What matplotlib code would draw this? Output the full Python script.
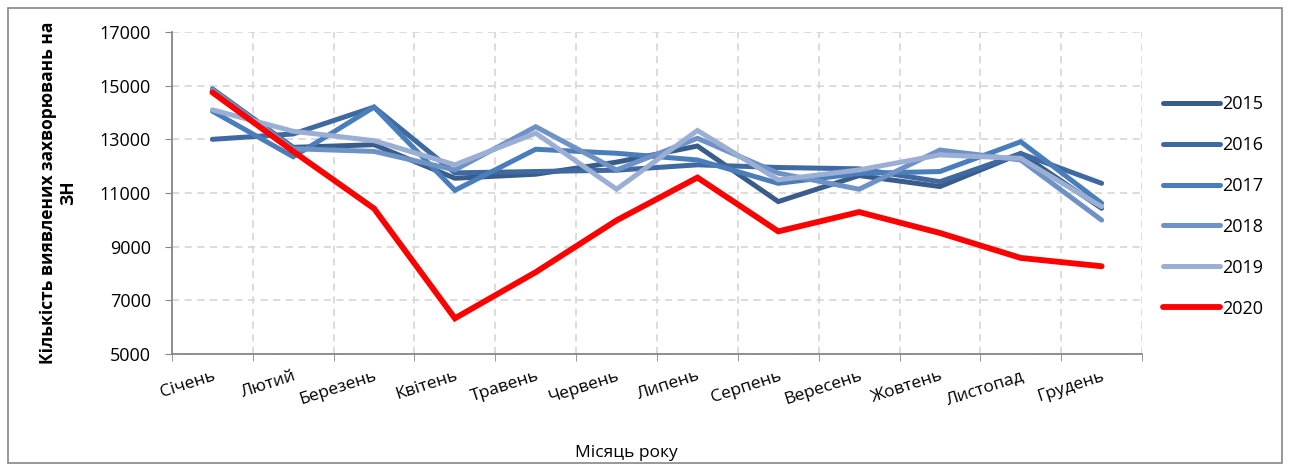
import numpy as np
import matplotlib
matplotlib.use("Agg")
import matplotlib.pyplot as plt
from matplotlib.patches import Rectangle

plt.rcParams['font.family'] = ['Open Sans', 'DejaVu Sans']

months = ['Січень', 'Лютий', 'Березень', 'Квітень', 'Травень', 'Червень',
          'Липень', 'Серпень', 'Вересень', 'Жовтень', 'Листопад', 'Грудень']

y2015 = [14880, 12700, 12800, 11550, 11700, 12150, 12750, 10680, 11650, 11240, 12470, 10430]
y2016 = [13000, 13200, 14200, 11750, 11800, 11850, 12050, 11950, 11900, 11420, 12470, 11360]
y2017 = [14050, 12350, 14200, 11100, 12630, 12480, 12230, 11360, 11730, 11800, 12910, 10620]
y2018 = [14850, 12650, 12550, 11860, 13470, 11860, 13040, 11740, 11140, 12600, 12230, 9990]
y2019 = [14100, 13300, 12950, 12050, 13230, 11140, 13330, 11490, 11860, 12420, 12290, 10490]
y2020 = [14750, 12550, 10420, 6330, 8050, 9980, 11575, 9570, 10290, 9510, 8580, 8270]

years = ['2015', '2016', '2017', '2018', '2019', '2020']
series = [y2015, y2016, y2017, y2018, y2019, y2020]
colors = ['#385D8A', '#3F69A0', '#4A7EBB', '#6E92C5', '#9BAFD5', '#FF0000']
widths = [3.6, 3.6, 3.6, 3.6, 3.6, 4.2]

fig = plt.figure(figsize=(12.9, 4.69), dpi=100)
ax = fig.add_axes([0.1333, 0.2452, 0.752, 0.6866])

x = np.arange(len(months))
for vals, yr, c, lw in zip(series, years, colors, widths):
    ax.plot(x, vals, color=c, lw=lw, label=yr, solid_capstyle='round', solid_joinstyle='miter')

ax.set_xlim(-0.5, 11.5)
ax.set_ylim(5000, 17000)
ax.set_yticks(np.arange(5000, 17001, 2000))
ax.set_xticks(x)
ax.set_xticklabels(months, rotation=18, ha='right', rotation_mode='anchor', fontsize=12.5)
ax.set_xticks(np.arange(-0.5, 12, 1), minor=True)
ax.tick_params(axis='x', which='major', length=0, pad=10)
ax.tick_params(axis='x', which='minor', length=5, color='#868686', direction='out')
ax.tick_params(axis='y', length=5, color='#868686', direction='out', labelsize=13, pad=10)

ax.grid(True, axis='y', which='major', ls=(0, (4, 3)), color='#D9D9D9', lw=1.3)
ax.grid(True, axis='x', which='minor', ls=(0, (4, 3)), color='#D9D9D9', lw=1.3)
ax.set_axisbelow(True)
for s in ['top', 'right']:
    ax.spines[s].set_visible(False)
for s in ['left', 'bottom']:
    ax.spines[s].set_color('#868686')
    ax.spines[s].set_linewidth(1.3)

ax.set_ylabel('Кількість виявлених захворювань на\nЗН', fontsize=12.5,
              fontweight='bold', labelpad=16)
fig.text(626 / 1290, 1 - 453 / 469, 'Місяць року', fontsize=12.5,
         ha='center', va='center')

leg = ax.legend(loc='upper left', bbox_to_anchor=(1163 / 1290, 1 - 95 / 469),
                bbox_transform=fig.transFigure, frameon=False, borderpad=0,
                borderaxespad=0, fontsize=13, handlelength=3.15,
                labelspacing=1.27, handletextpad=0.15)

fig.add_artist(Rectangle((0.006, 0.012), 0.988, 0.97, transform=fig.transFigure,
                         fill=False, edgecolor='#868686', lw=1.2))

fig.savefig('out.png', dpi=100)
